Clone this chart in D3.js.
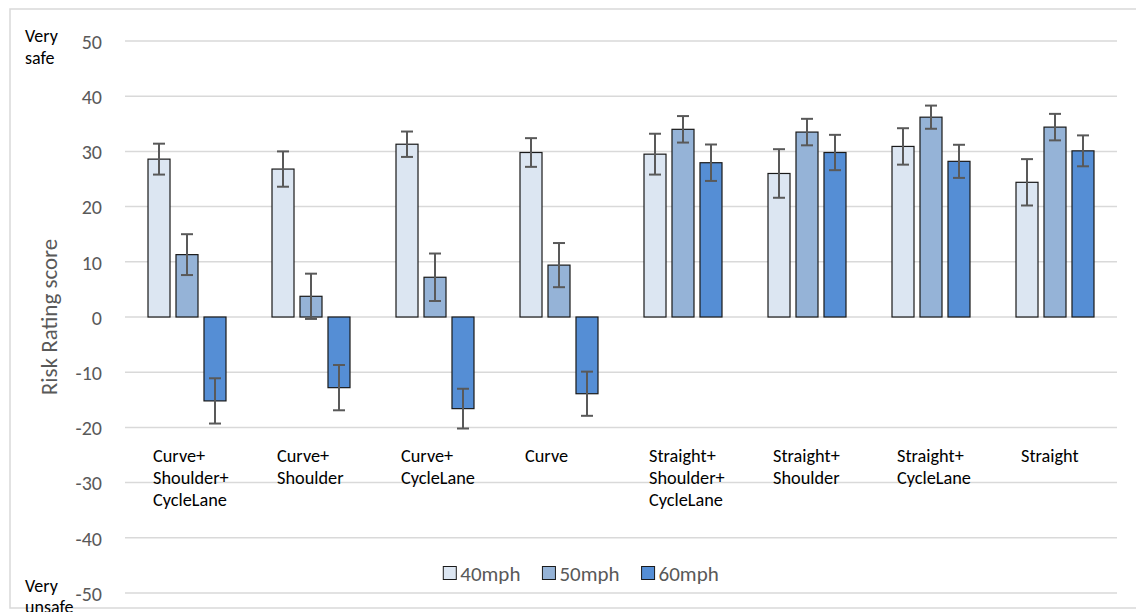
<!DOCTYPE html>
<html>
<head>
<meta charset="utf-8">
<script src="https://cdn.jsdelivr.net/npm/d3@7/dist/d3.min.js"></script>
<style>
  html, body { margin: 0; padding: 0; background: #fff; }
  svg { display: block; font-family: Carlito, Calibri, Lato, sans-serif; }
</style>
</head>
<body>
<svg id="chart" width="1136" height="612"></svg>
<script>
// Road layouts (each label split over lines) and speed series
const categories = [
  ["Curve+", "Shoulder+", "CycleLane"],
  ["Curve+", "Shoulder"],
  ["Curve+", "CycleLane"],
  ["Curve"],
  ["Straight+", "Shoulder+", "CycleLane"],
  ["Straight+", "Shoulder"],
  ["Straight+", "CycleLane"],
  ["Straight"]
];
const seriesNames = ["40mph", "50mph", "60mph"];
const seriesColors = ["#dce6f2", "#95b3d7", "#558ed5"];

// Mean risk rating score per layout
const values40 = [28.6, 26.8, 31.3, 29.8, 29.5, 26.0, 30.9, 24.4];
const values50 = [11.3, 3.75, 7.2, 9.4, 34.0, 33.5, 36.2, 34.4];
const values60 = [-15.2, -12.8, -16.6, -13.9, 27.95, 29.8, 28.2, 30.1];

// Error bar half-widths
const err40 = [2.8, 3.2, 2.3, 2.6, 3.7, 4.4, 3.3, 4.2];
const err50 = [3.7, 4.1, 4.3, 4.0, 2.4, 2.4, 2.1, 2.4];
const err60 = [4.1, 4.1, 3.6, 4.0, 3.3, 3.2, 3.0, 2.8];

const yTicks = [-50, -40, -30, -20, -10, 0, 10, 20, 30, 40, 50];

const svg = d3.select("#chart");

// chart area frame
svg.append("rect")
  .attr("x", 10).attr("y", 9)
  .attr("width", 1140).attr("height", 599)
  .attr("fill", "none").attr("stroke", "#d9d9d9").attr("stroke-width", 1.5);

const plot = { left: 125, right: 1117, top: 41, bottom: 593 };

const y = d3.scaleLinear().domain([-50, 50]).range([plot.bottom, plot.top]);
const x0 = d3.scaleBand()
  .domain(d3.range(categories.length))
  .range([plot.left, plot.right])
  .paddingInner(0.371).paddingOuter(0.1855);
const x1 = d3.scaleBand()
  .domain(d3.range(seriesNames.length))
  .range([0, x0.bandwidth()])
  .paddingInner(0.214).paddingOuter(0);

// gridlines
svg.append("g").selectAll("line").data(yTicks).join("line")
  .attr("x1", plot.left).attr("x2", plot.right)
  .attr("y1", d => y(d)).attr("y2", d => y(d))
  .attr("stroke", "#d9d9d9").attr("stroke-width", 1.5);

// y axis labels (plain hyphen for negatives)
const yAxis = d3.axisLeft(y).tickValues(yTicks).tickSize(0).tickPadding(0)
  .tickFormat(d => String(d));
const yg = svg.append("g").attr("transform", "translate(102,0)").call(yAxis);
yg.select(".domain").remove();
yg.selectAll("text")
  .attr("font-family", "Carlito, Calibri, Lato, sans-serif")
  .attr("font-size", 20).attr("fill", "#595959").attr("dy", "0.36em").attr("x", 0);

// axis end captions
const capFont = 18;
[["Very", 42], ["safe", 64], ["Very", 592], ["unsafe", 613]].forEach(([t, yy]) => {
  svg.append("text").attr("x", 25).attr("y", yy)
    .attr("font-size", capFont).attr("fill", "#000").text(t);
});

// axis title
svg.append("text")
  .attr("transform", `translate(57,${y(0)}) rotate(-90)`)
  .attr("text-anchor", "middle")
  .attr("font-size", 23).attr("fill", "#595959")
  .text("Risk Rating score");

const seriesValues = [values40, values50, values60];
const seriesErrors = [err40, err50, err60];

const rows = [];
categories.forEach((c, i) => {
  seriesNames.forEach((s, j) => {
    rows.push({ cat: i, ser: j, v: seriesValues[j][i], e: seriesErrors[j][i] });
  });
});

// bars
svg.append("g").selectAll("rect").data(rows).join("rect")
  .attr("x", d => x0(d.cat) + x1(d.ser))
  .attr("width", x1.bandwidth())
  .attr("y", d => y(Math.max(0, d.v)))
  .attr("height", d => Math.abs(y(d.v) - y(0)))
  .attr("fill", d => seriesColors[d.ser])
  .attr("stroke", "#1a1a1a").attr("stroke-width", 1.2);

// error bars
const eg = svg.append("g").attr("stroke", "#595959").attr("stroke-width", 2);
rows.forEach(d => {
  const cx = x0(d.cat) + x1(d.ser) + x1.bandwidth() / 2;
  const yt = y(d.v + d.e), yb = y(d.v - d.e);
  eg.append("line").attr("x1", cx).attr("x2", cx).attr("y1", yt).attr("y2", yb);
  eg.append("line").attr("x1", cx - 6).attr("x2", cx + 6).attr("y1", yt).attr("y2", yt);
  eg.append("line").attr("x1", cx - 6).attr("x2", cx + 6).attr("y1", yb).attr("y2", yb);
});

// category labels
const cg = svg.append("g");
categories.forEach((lines, i) => {
  const t = cg.append("text")
    .attr("x", x0(i) + 5).attr("y", 462)
    .attr("font-size", 18.3).attr("fill", "#000");
  lines.forEach((ln, k) => {
    t.append("tspan").attr("x", x0(i) + 5).attr("y", 462 + k * 22).text(ln);
  });
});

// legend
const lg = svg.append("g");
let cursor = 0;
seriesNames.forEach((s, j) => {
  const item = lg.append("g").attr("transform", `translate(${cursor},0)`);
  item.append("rect").attr("x", 0).attr("y", -6.5).attr("width", 13).attr("height", 13)
    .attr("fill", seriesColors[j]).attr("stroke", "#1a1a1a").attr("stroke-width", 1);
  const t = item.append("text").attr("x", 17).attr("y", 0).attr("dy", "0.36em")
    .attr("font-size", 21).attr("fill", "#595959").text(s);
  cursor += 17 + t.node().getComputedTextLength() + 22;
});
const legendWidth = cursor - 22;
lg.attr("transform", `translate(${581 - legendWidth / 2},573)`);
</script>
</body>
</html>
